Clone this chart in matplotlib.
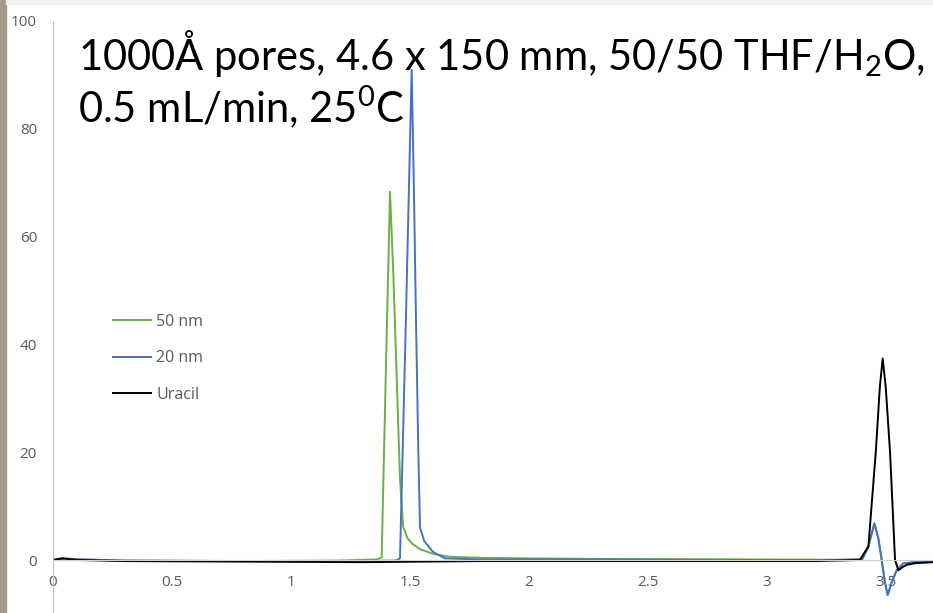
import matplotlib
matplotlib.use("Agg")
import matplotlib.pyplot as plt
from matplotlib.patches import Rectangle

plt.rcParams['mathtext.fontset'] = 'custom'
plt.rcParams['mathtext.rm'] = 'Lato'
plt.rcParams['mathtext.it'] = 'Lato:italic'
plt.rcParams['mathtext.bf'] = 'Lato:bold'

# DATA
x_50nm = [0, 0.03, 0.06, 0.1, 0.3, 0.8, 1.2, 1.36, 1.381, 1.398, 1.416, 1.43, 1.444,
          1.458, 1.471, 1.49, 1.51, 1.542, 1.6, 1.668, 1.8, 2.0, 2.3, 2.6, 3.0, 3.3,
          3.40, 3.426, 3.451, 3.468, 3.482, 3.495, 3.507, 3.525, 3.545, 3.573, 3.62, 3.7]
y_50nm = [0, 0.3, 0.3, 0.1, -0.1, -0.2, -0.1, 0.1, 0.5, 34, 68.3, 53, 34,
          15, 6.2, 4.0, 3.0, 2.0, 1.1, 0.6, 0.4, 0.3, 0.2, 0.15, 0.1, 0.05,
          0.2, 2.5, 6.8, 4.0, 0, -4.0, -6.5, -4.0, -1.9, -0.6, -0.4, -0.3]

x_20nm = [0, 0.05, 0.3, 0.8, 1.2, 1.44, 1.458, 1.483, 1.507, 1.516, 1.525, 1.535,
          1.542, 1.56, 1.597, 1.647, 1.8, 2.2, 2.6, 3.0, 3.3, 3.40, 3.426, 3.451,
          3.468, 3.482, 3.495, 3.507, 3.525, 3.545, 3.573, 3.62, 3.7]
y_20nm = [0, 0.2, -0.1, -0.2, -0.2, -0.1, 0.3, 45, 91, 70, 45, 20,
          6.0, 3.5, 1.5, 0.3, 0.1, 0.1, 0.05, 0, 0, 0.1, 2.5, 6.8,
          4.0, 0, -4.0, -6.5, -4.0, -1.9, -0.6, -0.4, -0.3]

x_uracil = [0, 0.04, 0.1, 0.3, 0.8, 1.3, 1.8, 2.3, 2.8, 3.2, 3.39, 3.426, 3.457,
            3.474, 3.486, 3.499, 3.517, 3.538, 3.552, 3.57, 3.587, 3.62, 3.7]
y_uracil = [0, 0.3, 0, -0.2, -0.3, -0.4, -0.2, -0.2, -0.2, -0.2, 0, 2.5, 20,
            32, 37.4, 32, 20, 0, -1.9, -1.3, -0.9, -0.6, -0.4]

labels = ['50 nm', '20 nm', 'Uracil']
colors = ['#70ad47', '#4472c4', '#000000']

x_ticks = [0, 0.5, 1, 1.5, 2, 2.5, 3, 3.5]
x_ticklabels = ['0', '0.5', '1', '1.5', '2', '2.5', '3', '3.5']
y_ticks = [0, 20, 40, 60, 80, 100]

title_line1 = '1000Å pores, 4.6 x 150 mm, 50/50 THF/H$_\\mathrm{2}$O,'
title_line2 = '0.5 mL/min, 25$^\\mathrm{0}$C'

# FIGURE
W, H = 933, 613
fig = plt.figure(figsize=(W / 100, H / 100), dpi=100)
ax = fig.add_axes([53 / W, 0, 880 / W, 1])

ax.plot(x_50nm, y_50nm, color=colors[0], lw=1.4, label=labels[0])
ax.plot(x_20nm, y_20nm, color=colors[1], lw=1.4, label=labels[1])
ax.plot(x_uracil, y_uracil, color=colors[2], lw=1.4, label=labels[2])

ax.set_xlim(0, 880 / 238)
ax.set_ylim(-(H - 560) / 5.39, 560 / 5.39)

for s in ['top', 'right']:
    ax.spines[s].set_visible(False)
ax.spines['left'].set_color('#bfbfbf')
ax.spines['left'].set_bounds(-12, 100)
ax.spines['bottom'].set_position(('data', 0))
ax.spines['bottom'].set_color('#d0d0d0')

ax.set_xticks(x_ticks)
ax.set_xticklabels(x_ticklabels)
ax.set_yticks(y_ticks)
ax.tick_params(axis='both', length=0, labelcolor='#595959', labelsize=11)
ax.tick_params(axis='y', pad=11.5)
ax.tick_params(axis='x', pad=11)
for lab in ax.get_xticklabels() + ax.get_yticklabels():
    lab.set_family('Open Sans')

leg = ax.legend(loc='upper left', bbox_to_anchor=(113 / W, 1 - 314 / H),
                bbox_transform=fig.transFigure, frameon=False, borderpad=0,
                borderaxespad=0, handlelength=2.4, handletextpad=0.3,
                labelspacing=1.28, prop={'family': 'Open Sans', 'size': 11.5})
for t in leg.get_texts():
    t.set_color('#595959')

fig.text(78 / W, 1 - 70 / H, title_line1, family='Lato', fontsize=30, va='baseline')
fig.text(78 / W, 1 - 122 / H, title_line2, family='Lato', fontsize=30, va='baseline')

# slide edge on the left and thin band on top
fig.patches.append(Rectangle((0, 0), 6 / W, 1, transform=fig.transFigure,
                             color='#a09c8c', zorder=5))
fig.patches.append(Rectangle((6 / W, 1 - 4 / H), 1, 4 / H, transform=fig.transFigure,
                             color='#f2f2f2', zorder=5))

fig.savefig('out.png', dpi=100)
